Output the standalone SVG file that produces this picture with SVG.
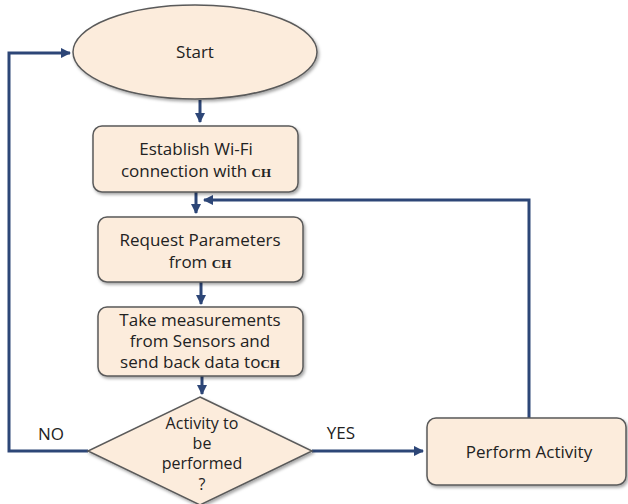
<svg xmlns="http://www.w3.org/2000/svg" width="628" height="504" viewBox="0 0 628 504">
<defs>
<style>
.node{fill:#fcecdc;stroke:#5a5a5a;stroke-width:1.5;filter:url(#sh)}
.t{font-family:"Open Sans","Liberation Sans",Arial,sans-serif;font-size:17px;fill:#222;text-anchor:middle}
.d{font-size:16px}
.ch{font-family:"Liberation Serif","Times New Roman",serif;font-size:13px;font-weight:bold}
.c{fill:none;stroke:#2d4677;stroke-width:3}
</style>
<filter id="sh" x="-10%" y="-10%" width="125%" height="130%">
<feDropShadow dx="1.5" dy="2" stdDeviation="1.5" flood-color="#000" flood-opacity="0.35"/>
</filter>
<marker id="ah" viewBox="0 0 10 10" refX="9" refY="5" markerWidth="3.5" markerHeight="3.5" orient="auto" markerUnits="strokeWidth">
<path d="M0,0 L10,5 L0,10 z" fill="#2d4677"/>
</marker>
</defs>
<rect width="628" height="504" fill="#fff"/>
<g id="connectors">
<path class="c" d="M200,100 V122" marker-end="url(#ah)"/>
<path class="c" d="M196,192 V213" marker-end="url(#ah)"/>
<path class="c" d="M529,418 V200 H204" marker-end="url(#ah)"/>
<path class="c" d="M201,282 V304" marker-end="url(#ah)"/>
<path class="c" d="M202,376 V394" marker-end="url(#ah)"/>
<path class="c" d="M88,451 H9 V53 H70" marker-end="url(#ah)"/>
<path class="c" d="M312,451 H423" marker-end="url(#ah)"/>
</g>
<g id="start">
<ellipse class="node" cx="195" cy="52" rx="122" ry="47"/>
<text class="t" x="195" y="58">Start</text>
</g>
<g id="wifi">
<rect class="node" x="93" y="126" width="205" height="66" rx="9"/>
<text class="t" x="196" y="155">Establish Wi-Fi</text>
<text class="t" x="196" y="177">connection with <tspan class="ch">CH</tspan></text>
</g>
<g id="request">
<rect class="node" x="98" y="217" width="205" height="65" rx="9"/>
<text class="t" x="200" y="246">Request Parameters</text>
<text class="t" x="200" y="268">from  <tspan class="ch">CH</tspan></text>
</g>
<g id="measure">
<rect class="node" x="98" y="307" width="205" height="69" rx="9"/>
<text class="t" x="200" y="326">Take measurements</text>
<text class="t" x="200" y="347">from Sensors and</text>
<text class="t" x="200" y="368">send back data to<tspan class="ch">CH</tspan></text>
</g>
<g id="decision">
<polygon class="node" points="200,397 312,451 200,505 88,451"/>
<text class="t d" x="202" y="429">Activity to</text>
<text class="t d" x="202" y="449">be</text>
<text class="t d" x="202" y="469">performed</text>
<text class="t d" x="202" y="490">?</text>
</g>
<g id="perform">
<rect class="node" x="427" y="418" width="199" height="67" rx="9"/>
<text class="t" x="529" y="458">Perform Activity</text>
</g>
<g id="labels">
<text class="t" x="51" y="440">NO</text>
<text class="t" x="341" y="439">YES</text>
</g>
</svg>
